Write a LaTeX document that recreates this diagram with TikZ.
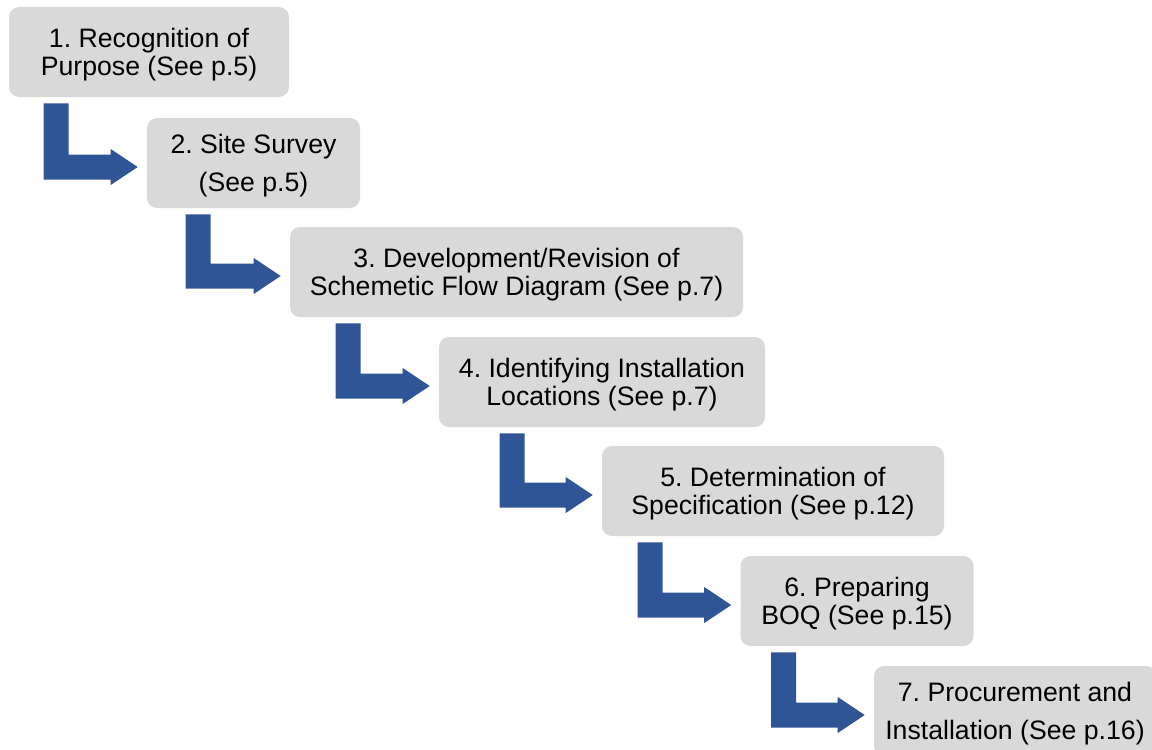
\documentclass[tikz,border=0pt]{standalone}
\usepackage{fontspec}
\setmainfont{Liberation Sans}
\usetikzlibrary{calc}
\definecolor{stepgray}{HTML}{D9D9D9}
\definecolor{arrowblue}{HTML}{2F5597}
\frenchspacing

\tikzset{
  stepbox/.style={fill=stepgray, rounded corners=7.5pt, inner sep=0pt,
    minimum height=67.5pt, font=\fontsize{20}{21}\selectfont},
  bentarrow/.style={fill=arrowblue}
}

% Two centred lines of a step's caption, set a little low in the box
\newcommand\steptext[1]{%
  \raisebox{-3pt}[\height][\depth]{\begin{tabular}{@{}c@{}}#1\end{tabular}}}

% Bent block arrow from node #1 down and right into node #2;
% #3 is the bar's left offset from #1's south west corner (in px units).
\newcommand\stairarrow[3]{%
  \fill[bentarrow]
    let \p1 = ($(#1.south west)+(#3,6)$),
        \p2 = ($(#2.west)+(-9,4)$) in
    (\x1,\y1) -- (\x1+18.75pt,\y1) -- (\x1+18.75pt,\y2+9.375pt)
    -- (\x2-20.25pt,\y2+9.375pt) -- (\x2-20.25pt,\y2+13.5pt)
    -- (\x2,\y2) -- (\x2-20.25pt,\y2-13.5pt) -- (\x2-20.25pt,\y2-9.375pt)
    -- (\x1,\y2-9.375pt) -- cycle;
}

\begin{document}
\begin{tikzpicture}[x=0.75pt, y=-0.75pt]
  \useasboundingbox (0,0) rectangle (1152,749);
  \clip (0,0) rectangle (1152,749);

  \node[stepbox, minimum width=280*0.75pt] (s1) at (149,52)
    {\steptext{1. Recognition of\\Purpose (See p.5)}};
  \node[stepbox, minimum width=213*0.75pt] (s2) at (253.5,163)
    {\steptext{2. Site Survey\\[7.5pt](See p.5)}};
  \node[stepbox, minimum width=453*0.75pt] (s3) at (516.5,272)
    {\steptext{3. Development/Revision of\\Schemetic Flow Diagram (See p.7)}};
  \node[stepbox, minimum width=326*0.75pt] (s4) at (602,382)
    {\steptext{4. Identifying Installation\\Locations (See p.7)}};
  \node[stepbox, minimum width=342*0.75pt] (s5) at (773,491)
    {\steptext{5. Determination of\\Specification (See p.12)}};
  \node[stepbox, minimum width=233*0.75pt] (s6) at (857,601)
    {\steptext{6. Preparing\\BOQ (See p.15)}};
  \node[stepbox, minimum width=282*0.75pt] (s7) at (1015,711)
    {\steptext{7. Procurement and\\[7.5pt]Installation (See p.16)}};

  \stairarrow{s1}{s2}{35}
  \stairarrow{s2}{s3}{39}
  \stairarrow{s3}{s4}{46}
  \stairarrow{s4}{s5}{61}
  \stairarrow{s5}{s6}{36}
  \stairarrow{s6}{s7}{31}
\end{tikzpicture}
\end{document}
